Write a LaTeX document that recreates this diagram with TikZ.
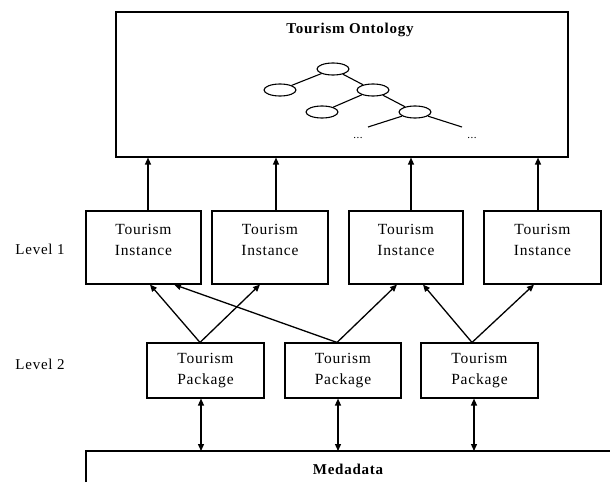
\documentclass[tikz,border=0pt]{standalone}
\usepackage{fontspec}
\setmainfont[LetterSpace=5]{Liberation Serif}
\usetikzlibrary{arrows.meta,shapes.geometric}
\tikzset{
  box/.style={draw, line width=1.1pt, rectangle, inner sep=0pt},
  lbl/.style={align=center, font=\fontsize{15.5}{21}\selectfont, inner sep=0pt},
  side/.style={font=\fontsize{15}{18}\selectfont, inner sep=0pt},
  arr/.style={line width=1.3pt, -{Triangle[length=7pt,width=6pt]}},
  darr/.style={line width=1.3pt, {Triangle[length=7pt,width=6pt]}-{Triangle[length=7pt,width=6pt]}},
  oval/.style={draw, ellipse, line width=1.1pt, minimum width=32pt, minimum height=12pt, inner sep=0pt},
  treeline/.style={line width=1.1pt},
}
\begin{document}
\begin{tikzpicture}[x=1pt,y=1pt]
\useasboundingbox (0,0) rectangle (610,-482);
% ontology box
\node[box, minimum width=452pt, minimum height=145pt] (onto) at (342,-84.5) {};
\node[font=\fontsize{15}{18}\selectfont\bfseries, inner sep=0pt] (ontot) at (350,-30) {Tourism Ontology};
% tree
\node[oval] (root) at (333,-69) {};
\node[oval] (lc) at (280,-90) {};
\node[oval] (rc) at (373,-90) {};
\node[oval] (lg) at (322,-112) {};
\node[oval] (rg) at (415,-112) {};
\coordinate (leafl) at (368,-127);
\coordinate (leafr) at (462,-127);
\draw[treeline] (root) -- (lc);
\draw[treeline] (root) -- (rc);
\draw[treeline] (rc) -- (lg);
\draw[treeline] (rc) -- (rg);
\draw[treeline] (rg) -- (leafl);
\draw[treeline] (rg) -- (leafr);
\node[font=\fontsize{11}{12}\selectfont, inner sep=0pt] (dotsl) at (358,-138) {...};
\node[font=\fontsize{11}{12}\selectfont, inner sep=0pt] (dotsr) at (472,-138) {...};
% level labels
\node[side] (lev1) at (40,-249) {Level 1};
\node[side] (lev2) at (40,-364) {Level 2};
% level 1 boxes
\node[box, minimum width=115pt, minimum height=73pt] (i1) at (143.5,-247.5) {};
\node[box, minimum width=116pt, minimum height=73pt] (i2) at (270,-247.5) {};
\node[box, minimum width=114pt, minimum height=73pt] (i3) at (406,-247.5) {};
\node[box, minimum width=117pt, minimum height=73pt] (i4) at (542.5,-247.5) {};
\node[lbl] (t1) at ([yshift=-29pt]i1.north) {Tourism\\Instance};
\node[lbl] (t2) at ([yshift=-29pt]i2.north) {Tourism\\Instance};
\node[lbl] (t3) at ([yshift=-29pt]i3.north) {Tourism\\Instance};
\node[lbl] (t4) at ([yshift=-29pt]i4.north) {Tourism\\Instance};
% level 2 boxes
\node[box, minimum width=117pt, minimum height=55pt, lbl] (p1) at (205.5,-370.5) {Tourism\\Package};
\node[box, minimum width=116pt, minimum height=55pt, lbl] (p2) at (343,-370.5) {Tourism\\Package};
\node[box, minimum width=117pt, minimum height=55pt, lbl] (p3) at (479.5,-370.5) {Tourism\\Package};
% metadata
\coordinate (mdtop) at (86,-451);
\draw[line width=1.1pt] (86,-482) -- (mdtop) -- (610,-451);
\node[font=\fontsize{15}{18}\selectfont\bfseries, inner sep=0pt] (meta) at (348,-469) {Medadata};
% arrows level1 -> ontology
\draw[arr] ([xshift=4.5pt]i1.north) -- ([xshift=4.5pt]i1.north |- onto.south);
\draw[arr] ([xshift=6pt]i2.north) -- ([xshift=6pt]i2.north |- onto.south);
\draw[arr] ([xshift=5pt]i3.north) -- ([xshift=5pt]i3.north |- onto.south);
\draw[arr] ([xshift=-4.5pt]i4.north) -- ([xshift=-4.5pt]i4.north |- onto.south);
% arrows level2 -> level1
\draw[arr] ([xshift=-5.5pt]p1.north) -- ([xshift=6.5pt]i1.south);
\draw[arr] ([xshift=-5.5pt]p1.north) -- ([xshift=-10pt]i2.south);
\draw[arr] ([xshift=-6pt]p2.north) -- ([xshift=30.5pt]i1.south);
\draw[arr] ([xshift=-6pt]p2.north) -- ([xshift=-9pt]i3.south);
\draw[arr] ([xshift=-7.5pt]p3.north) -- ([xshift=17pt]i3.south);
\draw[arr] ([xshift=-7.5pt]p3.north) -- ([xshift=-8.5pt]i4.south);
% double arrows level2 <-> metadata
\draw[darr] ([xshift=-4.5pt]p1.south) -- ([xshift=-4.5pt]p1.south |- mdtop);
\draw[darr] ([xshift=-5pt]p2.south) -- ([xshift=-5pt]p2.south |- mdtop);
\draw[darr] ([xshift=-5.5pt]p3.south) -- ([xshift=-5.5pt]p3.south |- mdtop);
\end{tikzpicture}
\end{document}
